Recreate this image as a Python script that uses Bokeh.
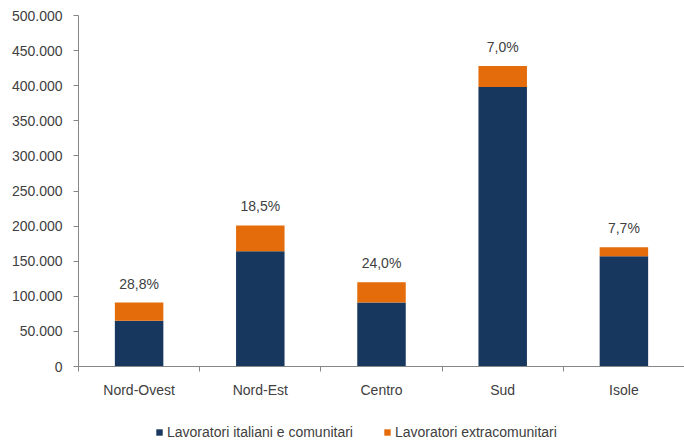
from bokeh.plotting import figure
from bokeh.layouts import column
from bokeh.models import (ColumnDataSource, Range1d, FixedTicker, LabelSet,
                          Legend, LegendItem)
from bokeh.core.properties import value
from bokeh.embed import file_html
from bokeh.resources import INLINE

regions = ["Nord-Ovest", "Nord-Est", "Centro", "Sud", "Isole"]
italiani = [65000, 164000, 91000, 398000, 157000]
extracomunitari = [26000, 37000, 29000, 30000, 13000]
pct_labels = ["28,8%", "18,5%", "24,0%", "7,0%", "7,7%"]
y_ticks = [0, 50000, 100000, 150000, 200000, 250000, 300000, 350000, 400000, 450000, 500000]
series_names = ["Lavoratori italiani e comunitari", "Lavoratori extracomunitari"]

FONT = "Liberation Sans"
TXT = "#404040"
AX = "#868686"
colors = ["#17375E", "#E46C0A"]

xpos = [i + 0.5 for i in range(len(regions))]
totals = [a + b for a, b in zip(italiani, extracomunitari)]
src = ColumnDataSource(dict(x=xpos, ital=italiani, extra=extracomunitari,
                            total=totals, pct=pct_labels))

chart = figure(width=684, height=412, output_backend="svg", toolbar_location=None,
               x_range=Range1d(0, len(regions)), y_range=Range1d(0, 500000),
               min_border_left=78, min_border_right=0, min_border_top=15,
               min_border_bottom=46)
chart.outline_line_color = None
chart.xgrid.visible = False
chart.ygrid.visible = False

chart.vbar_stack(["ital", "extra"], x="x", width=0.4, source=src,
                 color=colors, line_width=0)

labels = LabelSet(x="x", y="total", text="pct", source=src, text_align="center",
                  text_baseline="middle", y_offset=19, text_font=value(FONT),
                  text_font_size="14px", text_color=TXT)
chart.add_layout(labels)

# y axis
ya = chart.yaxis[0]
ya.ticker = FixedTicker(ticks=y_ticks, minor_ticks=[])
ya.major_label_overrides = {t: f"{t:,}".replace(",", ".") for t in y_ticks}
ya.axis_line_color = AX
ya.major_tick_line_color = AX
ya.major_tick_out = 5
ya.major_tick_in = 0
ya.minor_tick_line_color = None
ya.major_label_standoff = 11
ya.major_label_text_font = FONT
ya.major_label_text_font_size = "14px"
ya.major_label_text_color = TXT

# x axis
xa = chart.xaxis[0]
xa.ticker = FixedTicker(ticks=xpos, minor_ticks=list(range(len(regions) + 1)))
xa.major_label_overrides = {x: r for x, r in zip(xpos, regions)}
xa.axis_line_color = AX
xa.major_tick_line_color = None
xa.minor_tick_line_color = AX
xa.minor_tick_out = 5
xa.minor_tick_in = 0
xa.major_label_standoff = 9
xa.major_label_text_font = FONT
xa.major_label_text_font_size = "14px"
xa.major_label_text_color = TXT

# legend strip below the chart (its frame is aligned with the chart's frame)
leg = figure(width=684, height=32, output_backend="svg", toolbar_location=None,
             x_range=Range1d(0, 1), y_range=Range1d(0, 1),
             x_axis_type=None, y_axis_type=None, min_border=0)
leg.outline_line_color = None
leg.xgrid.visible = False
leg.ygrid.visible = False
proxies = [leg.vbar(x="x", top=col, width=0.4, source=src, color=c,
                    line_width=0, visible=False)
           for col, c in zip(["ital", "extra"], colors)]
legend = Legend(items=[LegendItem(label=n, renderers=[r]) for n, r in zip(series_names, proxies)],
                orientation="horizontal", location=(77, 4),
                glyph_width=8, glyph_height=8, label_standoff=4, spacing=30,
                padding=0, margin=0, border_line_color=None,
                background_fill_alpha=0, label_text_font=FONT,
                label_text_font_size="14px", label_text_color=TXT,
                label_height=14)
leg.add_layout(legend)

p = column(chart, leg, spacing=0)

open("out.html", "w").write(file_html(p, INLINE))
